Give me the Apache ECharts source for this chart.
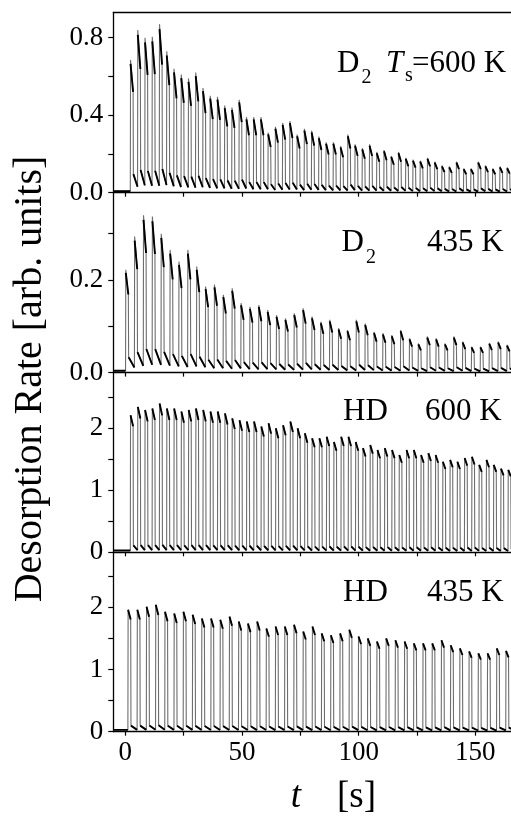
<!DOCTYPE html>
<html>
<head>
<meta charset="utf-8">
<script src="https://cdn.jsdelivr.net/npm/echarts@6/dist/echarts.min.js"></script>
<style>
  html, body { margin: 0; padding: 0; background: #fff; }
  #chart { width: 511px; height: 816px; }
</style>
</head>
<body>
<div id="chart"></div>
<script>
// Peak desorption rate of each beam pulse (arb. units), in time order.
const d2Hot = [0.685, 0.84, 0.80, 0.805, 0.87, 0.73, 0.64, 0.61, 0.59, 0.62,
  0.54, 0.50, 0.495, 0.45, 0.44, 0.48, 0.39, 0.39, 0.39, 0.31,
  0.34, 0.36, 0.37, 0.30, 0.33, 0.32, 0.29, 0.26, 0.26, 0.24,
  0.30, 0.25, 0.23, 0.25, 0.21, 0.22, 0.19, 0.21, 0.18, 0.17,
  0.165, 0.18, 0.16, 0.14, 0.135, 0.16, 0.125, 0.125, 0.16, 0.14,
  0.125, 0.135, 0.13];
const d2Cold = [0.222, 0.294, 0.34, 0.337, 0.30, 0.265, 0.24, 0.265, 0.229, 0.186,
  0.19, 0.168, 0.182, 0.15, 0.142, 0.146, 0.135, 0.124, 0.117, 0.128,
  0.139, 0.121, 0.11, 0.114, 0.096, 0.092, 0.114, 0.106, 0.088, 0.085,
  0.081, 0.092, 0.074, 0.063, 0.078, 0.074, 0.063, 0.078, 0.067, 0.056,
  0.056, 0.064, 0.067, 0.06];
const hdHot = [2.21, 2.345, 2.295, 2.32, 2.40, 2.32, 2.32, 2.27, 2.295, 2.32,
  2.295, 2.27, 2.27, 2.24, 2.16, 2.13, 2.11, 2.11, 2.03, 2.08,
  2.0, 2.05, 2.11, 2.0, 1.92, 1.84, 1.84, 1.865, 1.78, 1.865,
  1.865, 1.78, 1.68, 1.73, 1.65, 1.68, 1.65, 1.57, 1.65, 1.65,
  1.57, 1.60, 1.57, 1.46, 1.49, 1.46, 1.52, 1.54, 1.41, 1.49,
  1.41, 1.35, 1.33];
const hdCold = [1.96, 1.96, 2.01, 2.04, 1.93, 1.90, 1.93, 1.88, 1.82, 1.82,
  1.80, 1.85, 1.77, 1.74, 1.77, 1.66, 1.69, 1.69, 1.72, 1.61,
  1.69, 1.58, 1.55, 1.58, 1.64, 1.53, 1.50, 1.45, 1.50, 1.47,
  1.45, 1.42, 1.42, 1.42, 1.47, 1.39, 1.34, 1.29, 1.26, 1.26,
  1.34, 1.30];

// Centre time of the first pulse and pulse repetition period [s].
const d2HotTiming = [2.74, 3.104];
const d2ColdTiming = [0.7, 3.8];
const hdHotTiming = [2.74, 3.113];
const hdColdTiming = [1.7, 3.95];

// Axis ticks and labels.
const timeRange = [-5.15, 165.3];
const timeTicks = [0, 25, 50, 75, 100, 125, 150];
const timeLabels = [0, 50, 100, 150];
const d2HotTicks = [0, 0.2, 0.4, 0.6, 0.8];
const d2HotLabels = [0, 0.4, 0.8];
const d2ColdTicks = [0, 0.1, 0.2, 0.3];
const d2ColdLabels = [0, 0.2];
const hdTicks = [0, 0.5, 1, 1.5, 2, 2.5];
const hdLabels = [0, 1, 2];

// Panel labels.
const panelSpecies = ['D', 'D', 'HD', 'HD'];
const panelTemps = ['=600 K', '435 K', '600 K', '435 K'];

const FONT = 'Liberation Serif, "Times New Roman", serif';

// Square-wave pulse train: fast rise, slow decay while the beam is on,
// fast fall and a decaying tail while it is off.
function pulseTrain(peaks, timing, shape) {
  const [t0, period] = timing;
  const halfOn = 0.6;
  const full = [];
  const dark = [];
  const base0 = shape.base;
  full.push([timeRange[0], base0]);
  dark.push([timeRange[0], base0]);
  let low = base0;
  peaks.forEach((p, i) => {
    const tp = t0 + i * period;
    const rise = tp - halfOn;
    const fall = tp + halfOn;
    full.push([rise, low]);
    dark.push([rise, low], [rise, '-']);
    full.push([rise + 0.1, p]);
    full.push([fall, p * shape.keep]);
    dark.push([rise + 0.1, p * shape.topDark], [fall, p * shape.keep], [fall, '-']);
    full.push([fall + 0.12, p * shape.offHi]);
    dark.push([fall + 0.12, p * shape.offHi]);
    low = p * shape.offLo;
  });
  const tEnd = t0 + peaks.length * period - halfOn;
  full.push([tEnd, low]);
  dark.push([tEnd, low]);
  return { full, dark };
}

const panels = [
  { peaks: d2Hot, timing: d2HotTiming, max: 0.930, ticks: d2HotTicks, labels: d2HotLabels, digits: 1,
    shape: { keep: 0.76, topDark: 0.97, offHi: 0.14, offLo: 0.045, base: 0.008 } },
  { peaks: d2Cold, timing: d2ColdTiming, max: 0.3886, ticks: d2ColdTicks, labels: d2ColdLabels, digits: 1,
    shape: { keep: 0.76, topDark: 0.97, offHi: 0.15, offLo: 0.05, base: 0.004 } },
  { peaks: hdHot, timing: hdHotTiming, max: 2.898, ticks: hdTicks, labels: hdLabels, digits: 0,
    shape: { keep: 0.92, topDark: 1, offHi: 0.05, offLo: 0.015, base: 0.03 } },
  { peaks: hdCold, timing: hdColdTiming, max: 2.884, ticks: hdTicks, labels: hdLabels, digits: 0,
    shape: { keep: 0.92, topDark: 1, offHi: 0.05, offLo: 0.015, base: 0.03 } }
];

const gridTops = [12.5, 192.7, 372.6, 552.3];
const gridHeights = [180.2, 179.9, 179.7, 179.4];

const axisLineStyle = { color: '#000', width: 1.3 };
const grid = [], xAxis = [], yAxis = [], series = [];

panels.forEach((pn, i) => {
  grid.push({ left: 113.3, right: 0, top: gridTops[i], height: gridHeights[i], outerBoundsMode: 'none' });
  xAxis.push({
    type: 'value', gridIndex: i, min: timeRange[0], max: timeRange[1],
    axisLine: { show: true, onZero: false, lineStyle: axisLineStyle },
    axisTick: { show: true, inside: false, length: 4, customValues: timeTicks, lineStyle: { color: '#000', width: 1.2 } },
    axisLabel: { show: i === 3, customValues: timeLabels, margin: 8, color: '#000', fontFamily: FONT, fontSize: 27 },
    splitLine: { show: false }
  });
  yAxis.push({
    type: 'value', gridIndex: i, min: 0, max: pn.max,
    axisLine: { show: true, onZero: false, lineStyle: axisLineStyle },
    axisTick: { show: true, inside: false, length: 5, customValues: pn.ticks, lineStyle: { color: '#000', width: 1.2 } },
    axisLabel: {
      show: true, customValues: pn.labels, margin: 10, color: '#000', fontFamily: FONT, fontSize: 27,
      formatter: v => Number(v).toFixed(pn.digits)
    },
    splitLine: { show: false }
  });
  const tr = pulseTrain(pn.peaks, pn.timing, pn.shape);
  series.push({
    type: 'line', xAxisIndex: i, yAxisIndex: i, data: tr.full, showSymbol: false, silent: true,
    lineStyle: { color: '#6e6e6e', width: 1.1 }, z: 2
  });
  series.push({
    type: 'line', xAxisIndex: i, yAxisIndex: i, data: tr.dark, showSymbol: false, silent: true,
    connectNulls: false, lineStyle: { color: '#000', width: 1.9 }, z: 3
  });
});

// Top frame line of the upper panel.
xAxis.push({
  type: 'value', gridIndex: 0, position: 'top', min: timeRange[0], max: timeRange[1],
  axisLine: { show: true, onZero: false, lineStyle: axisLineStyle },
  axisTick: { show: false }, axisLabel: { show: false }, splitLine: { show: false }
});

function txt(str, x, y, size, opts) {
  const o = opts || {};
  return {
    type: 'text', x: x, y: y, silent: true,
    style: {
      text: str, fill: '#000', fontFamily: 'Liberation Serif', fontSize: size,
      fontStyle: o.italic ? 'italic' : 'normal',
      align: o.align || 'left', verticalAlign: 'middle',
      textAlign: o.align || 'left', textVerticalAlign: 'middle'
    }
  };
}

const graphic = [
  // panel 1: D2  Ts=600 K
  txt(panelSpecies[0], 337, 63.5, 31),
  txt('2', 361.5, 78.2, 20),
  txt('T', 386, 63.5, 31, { italic: true }),
  txt('s', 405, 75.5, 20),
  txt(panelTemps[0], 412, 63.5, 31),
  // panel 2: D2 435 K
  txt(panelSpecies[1], 341.5, 243, 31),
  txt('2', 366, 258, 20),
  txt(panelTemps[1], 427, 243, 31),
  // panel 3: HD 600 K
  txt(panelSpecies[2], 343, 412.2, 31),
  txt(panelTemps[2], 425, 412.2, 31),
  // panel 4: HD 435 K
  txt(panelSpecies[3], 343, 592.5, 31),
  txt(panelTemps[3], 427, 592.5, 31),
  // time axis title
  txt('t', 296, 797, 37, { italic: true, align: 'center' }),
  txt('[s]', 356.5, 797, 37, { align: 'center' }),
  // shared rate axis title
  {
    type: 'text', x: 30, y: 379, rotation: Math.PI / 2, silent: true,
    style: { text: 'Desorption Rate [arb. units]', fill: '#000', fontFamily: 'Liberation Serif', fontSize: 40,
      align: 'center', verticalAlign: 'middle', textAlign: 'center', textVerticalAlign: 'middle' }
  }
];

const chart = echarts.init(document.getElementById('chart'), null, { renderer: 'canvas' });
chart.setOption({
  animation: false,
  backgroundColor: '#fff',
  grid, xAxis, yAxis, series, graphic
});
</script>
</body>
</html>
